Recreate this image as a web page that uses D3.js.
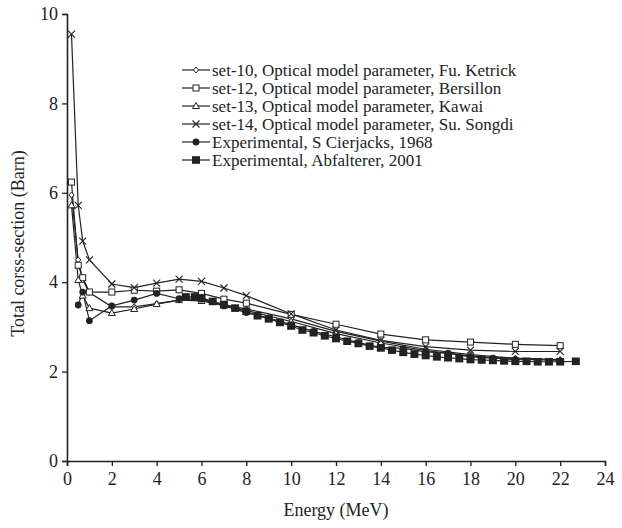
<!DOCTYPE html>
<html><head><meta charset="utf-8">
<script src="https://cdn.jsdelivr.net/npm/d3@7"></script>
<style>body{margin:0;background:#fff}svg{display:block}</style>
</head><body><svg id="c" width="622" height="528"></svg>
<script>
const modelEnergy = [0.2, 0.5, 0.7, 1, 2, 3, 4, 5, 6, 7, 8, 10, 12, 14, 16, 18, 20, 22];
const set10 = [5.95, 4.5, 4.05, 3.77, 3.45, 3.45, 3.52, 3.6, 3.6, 3.5, 3.4, 3.18, 2.9, 2.68, 2.5, 2.38, 2.3, 2.27];
const set12 = [6.24, 4.38, 4.1, 3.78, 3.78, 3.82, 3.8, 3.83, 3.75, 3.62, 3.53, 3.28, 3.06, 2.84, 2.71, 2.66, 2.61, 2.58];
const set13 = [5.72, 4.05, 3.7, 3.42, 3.31, 3.4, 3.51, 3.6, 3.58, 3.48, 3.37, 3.12, 2.85, 2.64, 2.47, 2.35, 2.28, 2.25];
const set14 = [9.55, 5.72, 4.92, 4.5, 3.96, 3.88, 3.98, 4.07, 4.02, 3.87, 3.7, 3.29, 2.93, 2.7, 2.56, 2.48, 2.45, 2.45];
const cierEnergy = [0.5, 0.7, 1, 2, 3, 4, 5, 6, 7, 8, 9, 10, 11, 12, 13, 14, 15, 16, 17, 18, 19, 20];
const cierValues = [3.49, 3.78, 3.14, 3.47, 3.6, 3.75, 3.63, 3.62, 3.47, 3.32, 3.2, 3.05, 2.9, 2.78, 2.65, 2.54, 2.52, 2.44, 2.41, 2.33, 2.3, 2.27];
const abfEnergy = [5.3, 5.7, 6.0, 6.5, 7.0, 7.5, 8.0, 8.5, 9.0, 9.5, 10.0, 10.5, 11.0, 11.5, 12.0, 12.5, 13.0, 13.5, 14.0, 14.5, 15.0, 15.5, 16.0, 16.5, 17.0, 17.5, 18.0, 18.5, 19.0, 19.5, 20.0, 20.5, 21.0, 21.5, 22.0, 22.7];
const abfValues = [3.67, 3.67, 3.65, 3.57, 3.5, 3.42, 3.35, 3.25, 3.18, 3.1, 3.02, 2.93, 2.87, 2.8, 2.74, 2.68, 2.63, 2.57, 2.53, 2.48, 2.43, 2.39, 2.36, 2.33, 2.31, 2.29, 2.27, 2.26, 2.25, 2.24, 2.23, 2.23, 2.22, 2.22, 2.22, 2.23];
const seriesNames = [
  "set-10, Optical model parameter, Fu. Ketrick",
  "set-12, Optical model parameter, Bersillon",
  "set-13, Optical model parameter, Kawai",
  "set-14, Optical model parameter, Su. Songdi",
  "Experimental, S Cierjacks, 1968",
  "Experimental, Abfalterer, 2001"
];
const xTicks = [0, 2, 4, 6, 8, 10, 12, 14, 16, 18, 20, 22, 24];
const yTicks = [0, 2, 4, 6, 8, 10];

const FONT = "'Liberation Serif', 'Times New Roman', Times, 'DejaVu Serif', serif";

const series = [
  {name: seriesNames[0], x: modelEnergy, y: set10, sym: "diamond"},
  {name: seriesNames[1], x: modelEnergy, y: set12, sym: "square"},
  {name: seriesNames[2], x: modelEnergy, y: set13, sym: "triangle"},
  {name: seriesNames[3], x: modelEnergy, y: set14, sym: "cross"},
  {name: seriesNames[4], x: cierEnergy, y: cierValues, sym: "dot"},
  {name: seriesNames[5], x: abfEnergy, y: abfValues, sym: "bigsquare"}
];

const svg = d3.select("#c");
const m = {l: 67, r: 605, t: 14, b: 461};
const x = d3.scaleLinear().domain([0, 24]).range([m.l, m.r]);
const y = d3.scaleLinear().domain([0, 10]).range([m.b, m.t]);

function drawSym(g, sym, cx, cy) {
  if (sym === "diamond") {
    g.append("path").attr("d", `M${cx},${cy-3}L${cx+2.6},${cy}L${cx},${cy+3}L${cx-2.6},${cy}Z`)
      .attr("fill", "#fff").attr("stroke", "#222").attr("stroke-width", 1);
  } else if (sym === "square") {
    g.append("rect").attr("x", cx-3).attr("y", cy-3).attr("width", 6).attr("height", 6)
      .attr("fill", "#fff").attr("stroke", "#222").attr("stroke-width", 1);
  } else if (sym === "triangle") {
    g.append("path").attr("d", `M${cx},${cy-3.5}L${cx+3.5},${cy+2.5}L${cx-3.5},${cy+2.5}Z`)
      .attr("fill", "#fff").attr("stroke", "#222").attr("stroke-width", 1);
  } else if (sym === "cross") {
    g.append("path").attr("d", `M${cx-3.5},${cy-3.5}L${cx+3.5},${cy+3.5}M${cx-3.5},${cy+3.5}L${cx+3.5},${cy-3.5}`)
      .attr("stroke", "#222").attr("stroke-width", 1.1);
  } else if (sym === "dot") {
    g.append("circle").attr("cx", cx).attr("cy", cy).attr("r", 3.4).attr("fill", "#222");
  } else if (sym === "bigsquare") {
    g.append("rect").attr("x", cx-4).attr("y", cy-3.8).attr("width", 8).attr("height", 7.6).attr("fill", "#222");
  }
}

// axes
const xAxis = d3.axisBottom(x).tickValues(xTicks).tickSize(5).tickPadding(4);
const yAxis = d3.axisLeft(y).tickValues(yTicks).tickSize(5).tickPadding(4);
const gx = svg.append("g").attr("transform", `translate(0,${m.b})`).call(xAxis);
const gy = svg.append("g").attr("transform", `translate(${m.l},0)`).call(yAxis);
[gx, gy].forEach(g => {
  g.attr("font-family", FONT).attr("font-size", 18);
  g.select(".domain").attr("stroke", "#222").attr("stroke-width", 1.6);
  g.selectAll(".tick line").attr("stroke", "#222").attr("stroke-width", 1.3);
  g.selectAll(".tick text").attr("font-family", FONT).attr("font-size", 18).attr("fill", "#222");
});
gx.selectAll(".tick text").attr("dy", "0.85em");

svg.append("text").attr("x", (m.l + m.r) / 2).attr("y", 516).attr("text-anchor", "middle")
  .attr("font-family", FONT).attr("font-size", 18).attr("fill", "#222").text("Energy (MeV)");
svg.append("text").attr("transform", `translate(24,${(m.t + m.b) / 2 + 6}) rotate(-90)`).attr("text-anchor", "middle")
  .attr("font-family", FONT).attr("font-size", 18).attr("fill", "#222").text("Total corss-section (Barn)");

const line = d3.line().x(d => x(d[0])).y(d => y(d[1]));
series.forEach(s => {
  const pts = s.x.map((e, i) => [e, s.y[i]]);
  svg.append("path").attr("d", line(pts)).attr("fill", "none").attr("stroke", "#222").attr("stroke-width", 1.2);
});
series.forEach(s => {
  const g = svg.append("g");
  s.x.forEach((e, i) => drawSym(g, s.sym, x(e), y(s.y[i])));
});

// legend
const lg = svg.append("g");
series.forEach((s, i) => {
  const yy = 70 + i * 18;
  lg.append("line").attr("x1", 182).attr("x2", 210).attr("y1", yy).attr("y2", yy).attr("stroke", "#222").attr("stroke-width", 1.2);
  drawSym(lg, s.sym, 196, yy);
  lg.append("text").attr("x", 212).attr("y", yy + 5.5)
    .attr("font-family", FONT).attr("font-size", 17).attr("textLength", null).attr("fill", "#222").text(s.name);
});
</script></body></html>
